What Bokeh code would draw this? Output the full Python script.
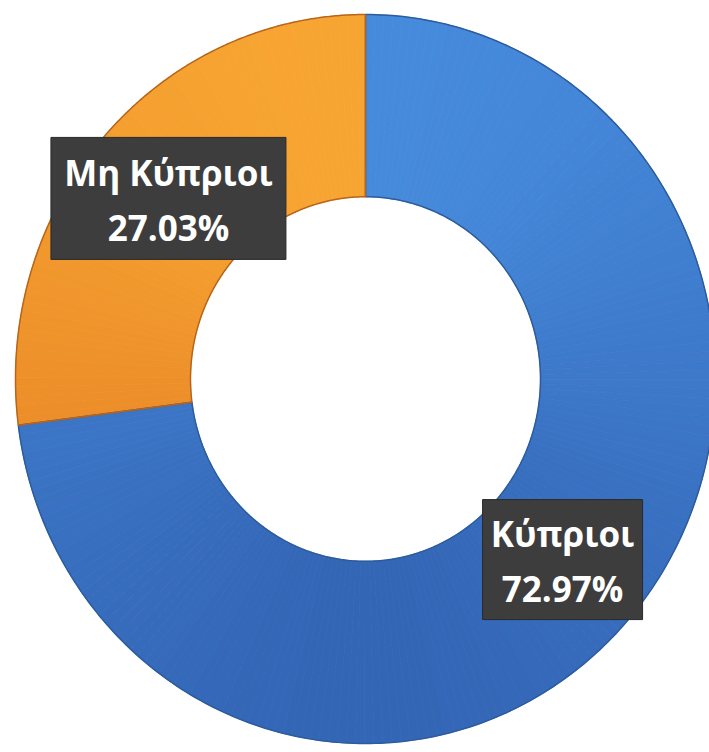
import numpy as np
from bokeh.plotting import figure
from bokeh.models import ColumnDataSource, Range1d
from bokeh.core.properties import value
from bokeh.embed import file_html
from bokeh.resources import INLINE

# ---- data ----
categories = ["Κύπριοι", "Μη Κύπριοι"]
shares = [72.97, 27.03]
pct_labels = ["72.97%", "27.03%"]

# ---- style ----
light_colors = [(70, 138, 220), (247, 165, 50)]
dark_colors = [(52, 102, 182), (228, 124, 34)]
edge_colors = ["#2c5c9c", "#b8651c"]
box_w = [160, 235]
box_h = [120, 122]

W, H = 709, 752
RX_PX, RY_PX = 350.0, 364.5      # outer radius in pixels (x, y)
CX_PX, CY_PX = 365.0, 378.5      # centre, px from canvas left / top
INNER = 0.5
LABEL_R = 0.75

p = figure(width=W, height=H, output_backend="svg", toolbar_location=None,
           x_range=Range1d(-CX_PX / RX_PX, (W - CX_PX) / RX_PX),
           y_range=Range1d(-(H - CY_PX) / RY_PX, CY_PX / RY_PX),
           x_axis_location=None, y_axis_location=None, min_border=0)
p.grid.visible = False
p.outline_line_color = None
p.background_fill_color = "white"


def mix(c1, c2, t):
    r, g, b = (int(round(a + (b_ - a) * t)) for a, b_ in zip(c1, c2))
    return "#%02x%02x%02x" % (r, g, b)


total = float(sum(shares))
start = np.pi / 2
seg_xs, seg_ys, lx, ly = [], [], [], []
sub_xs, sub_ys, sub_col = [], [], []
for i, s in enumerate(shares):
    end = start - 2 * np.pi * s / total
    th = np.linspace(start, end, 300)
    xo, yo = np.cos(th), np.sin(th)
    xi, yi = INNER * np.cos(th[::-1]), INNER * np.sin(th[::-1])
    seg_xs.append(list(np.concatenate([xo, xi])))
    seg_ys.append(list(np.concatenate([yo, yi])))
    # shading slices (vertical light -> dark gradient)
    n = max(10, int(abs(end - start) * 180 / np.pi / 1.5))
    edges = np.linspace(start, end, n + 1)
    for a0, a1 in zip(edges[:-1], edges[1:]):
        t = np.linspace(a0, a1, 6)
        sub_xs.append(list(np.concatenate([np.cos(t), INNER * np.cos(t[::-1])])))
        sub_ys.append(list(np.concatenate([np.sin(t), INNER * np.sin(t[::-1])])))
        f = (np.sin((a0 + a1) / 2) + 1) / 2
        sub_col.append(mix(dark_colors[i], light_colors[i], f))
    mid = (start + end) / 2
    lx.append(LABEL_R * np.cos(mid))
    ly.append(LABEL_R * np.sin(mid))
    start = end

ssrc = ColumnDataSource(dict(xs=sub_xs, ys=sub_ys, color=sub_col))
p.patches("xs", "ys", source=ssrc, fill_color="color", line_color="color", line_width=0.8)

src = ColumnDataSource(dict(xs=seg_xs, ys=seg_ys, edge=edge_colors))
p.patches("xs", "ys", source=src, fill_alpha=0, line_color="edge", line_width=1.5)

lsrc = ColumnDataSource(dict(x=lx, y=ly, cat=categories, pct=pct_labels, w=box_w, h=box_h))
p.rect(x="x", y="y", width="w", height="h", width_units="screen", height_units="screen",
       source=lsrc, fill_color="#3d3d3d", line_color="#2a2a2a", line_width=1)
p.text(x="x", y="y", text="cat", source=lsrc, y_offset=-26, text_align="center",
       text_baseline="middle", text_color="white", text_font=value("Open Sans"),
       text_font_style="bold", text_font_size="35px")
p.text(x="x", y="y", text="pct", source=lsrc, y_offset=29, text_align="center",
       text_baseline="middle", text_color="white", text_font=value("Open Sans"),
       text_font_style="bold", text_font_size="35px")

open("out.html", "w").write(file_html(p, INLINE))
